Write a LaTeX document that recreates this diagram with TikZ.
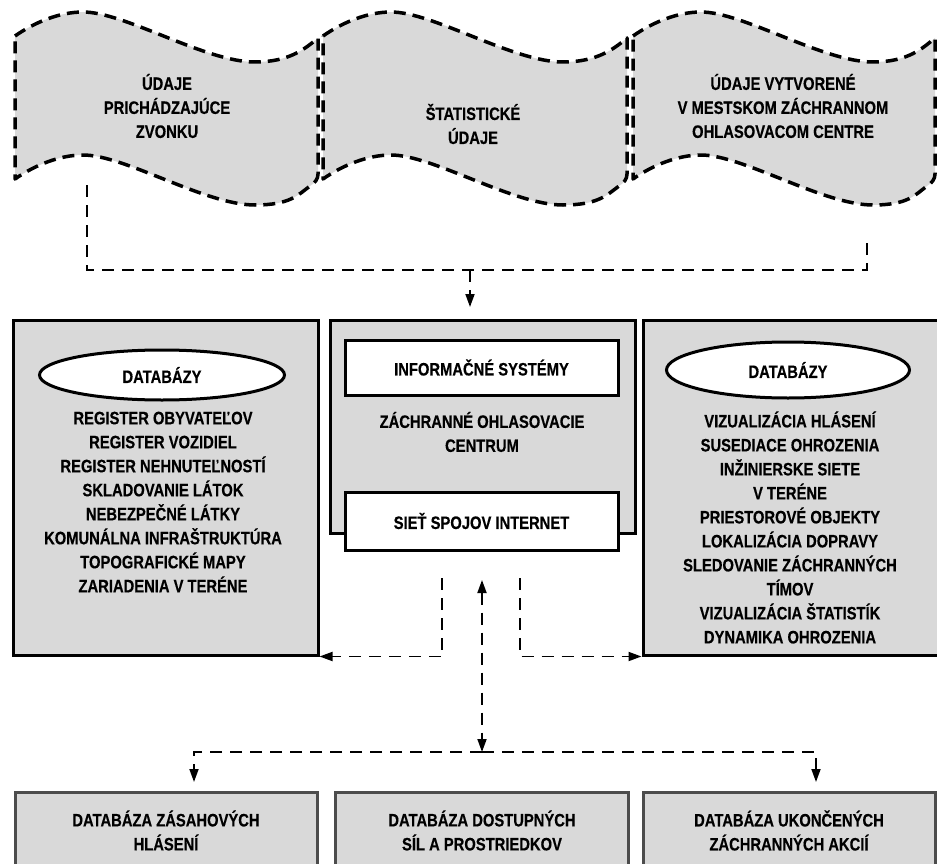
\documentclass[tikz,border=0pt]{standalone}
\usepackage{fontspec}
\setmainfont{Liberation Sans}[FakeStretch=0.82, BoldFeatures={FakeBold=0.4}]
\usetikzlibrary{arrows.meta,shapes.geometric}
\definecolor{boxgray}{RGB}{217,217,217}
\tikzset{
  flagst/.style={fill=boxgray, draw=black, line width=3.5pt, dash pattern=on 12pt off 7pt, line join=round},
  gbox/.style={rectangle, draw=black, line width=3pt, fill=boxgray, inner sep=0pt},
  bbox/.style={rectangle, draw=black!70, line width=3pt, fill=boxgray, inner sep=0pt},
  wbox/.style={rectangle, draw=black, line width=3pt, fill=white, inner sep=0pt},
  oval/.style={ellipse, draw=black, line width=3pt, fill=white, inner sep=0pt},
  conn/.style={line width=1.8pt, dash pattern=on 12pt off 8pt},
  tipend/.style={-{Triangle[length=13pt,width=9pt]}},
  tipboth/.style={{Triangle[length=13pt,width=9pt]}-{Triangle[length=13pt,width=9pt]}},
  txt/.style={font=\fontsize{18}{24}\selectfont\bfseries, align=center, inner sep=0pt}
}
\newcommand\flagshape[2]{%
  \path[flagst] (#1,36) .. controls ({#1+20},22) and ({#1+45},12) .. ({#1+68},12)
    .. controls ({#1+110},12) and ({#1+190},62) .. ({#1+240},62)
    .. controls ({#1+275},62) and ({#2-12},48) .. (#2,38)
    -- (#2,174) .. controls (#2,179) and ({#2-3},183) .. ({#2-8},186)
    .. controls ({#2-20},195) and ({#1+275},205) .. ({#1+240},205)
    .. controls ({#1+190},205) and ({#1+110},155) .. ({#1+68},155)
    .. controls ({#1+45},155) and ({#1+20},165) .. (#1,179) -- cycle;}
\begin{document}
\begin{tikzpicture}[x=1pt,y=-1pt]
\useasboundingbox (0,0) rectangle (937,864);
\clip (0,0) rectangle (937,864);
% flags
\flagshape{15}{318}
\flagshape{323}{627}
\flagshape{633}{935}
\node[txt] (f1) at (167,106) {ÚDAJE\\PRICHÁDZAJÚCE\\ZVONKU};
\node[txt] (f2) at (473,124) {ŠTATISTICKÉ\\ÚDAJE};
\node[txt] (f3) at (783,106) {ÚDAJE VYTVORENÉ\\V MESTSKOM ZÁCHRANNOM\\OHLASOVACOM CENTRE};
% middle row
\node[gbox, minimum width=305pt, minimum height=335pt] (lbox) at (165.5,487.5) {};
\node[gbox, minimum width=305pt, minimum height=213pt] (mbox) at (482.5,426.5) {};
\node[gbox, minimum width=302pt, minimum height=335pt] (rbox) at (794,487.5) {};
\node[wbox, minimum width=273pt, minimum height=55pt, txt] (info) at (481.5,367.5) {INFORMAČNÉ SYSTÉMY};
\node[txt] (zoc) at (482,432) {ZÁCHRANNÉ OHLASOVACIE\\CENTRUM};
\node[wbox, minimum width=273pt, minimum height=58pt, txt] (siet) at (481.5,521) {SIEŤ SPOJOV INTERNET};
\node[oval, minimum width=245pt, minimum height=50pt, txt] (db1) at (162,375) {DATABÁZY};
\node[oval, minimum width=243pt, minimum height=56pt, txt] (db2) at (788,370) {DATABÁZY};
\node[txt] (l1) at (163,502) {REGISTER OBYVATEĽOV\\REGISTER VOZIDIEL\\REGISTER NEHNUTEĽNOSTÍ\\SKLADOVANIE LÁTOK\\NEBEZPEČNÉ LÁTKY\\KOMUNÁLNA INFRAŠTRUKTÚRA\\TOPOGRAFICKÉ MAPY\\ZARIADENIA V TERÉNE};
\node[txt] (l2) at (790,527.5) {VIZUALIZÁCIA HLÁSENÍ\\SUSEDIACE OHROZENIA\\INŽINIERSKE SIETE\\V TERÉNE\\PRIESTOROVÉ OBJEKTY\\LOKALIZÁCIA DOPRAVY\\SLEDOVANIE ZÁCHRANNÝCH\\TÍMOV\\VIZUALIZÁCIA ŠTATISTÍK\\DYNAMIKA OHROZENIA};
% bottom row
\node[bbox, minimum width=302pt, minimum height=110pt] (b1) at (166,847) {};
\node[bbox, minimum width=293pt, minimum height=110pt] (b2) at (481.5,847) {};
\node[bbox, minimum width=292pt, minimum height=110pt] (b3) at (789,847) {};
\node[txt] (b1t) at (166,830.5) {DATABÁZA ZÁSAHOVÝCH\\HLÁSENÍ};
\node[txt] (b2t) at (482,830.5) {DATABÁZA DOSTUPNÝCH\\SÍL A PROSTRIEDKOV};
\node[txt] (b3t) at (789,830.5) {DATABÁZA UKONČENÝCH\\ZÁCHRANNÝCH AKCIÍ};
% connectors top
\coordinate (t1) at (87,185);
\coordinate (t2) at (867,242);
\coordinate (tj) at (470,270);
\coordinate (ta) at (470,307);
\draw[conn] (t1) |- (tj) -| (t2);
\draw[conn,tipend] (tj) -- (ta);
% connectors bottom
\coordinate (cl) at (442,578);
\coordinate (cr) at (520,578);
\coordinate (mu) at (482,580);
\coordinate (bj) at (482,752);
\coordinate (bl) at (194,782);
\coordinate (br) at (816,782);
\draw[conn,tipend] (cl) |- (lbox.south east);
\draw[conn,tipend] (cr) |- (rbox.south west);
\draw[conn,tipboth] (mu) -- (bj);
\draw[conn,tipend] (bj) -| (bl);
\draw[conn,tipend] (bj) -| (br);
\end{tikzpicture}
\end{document}
